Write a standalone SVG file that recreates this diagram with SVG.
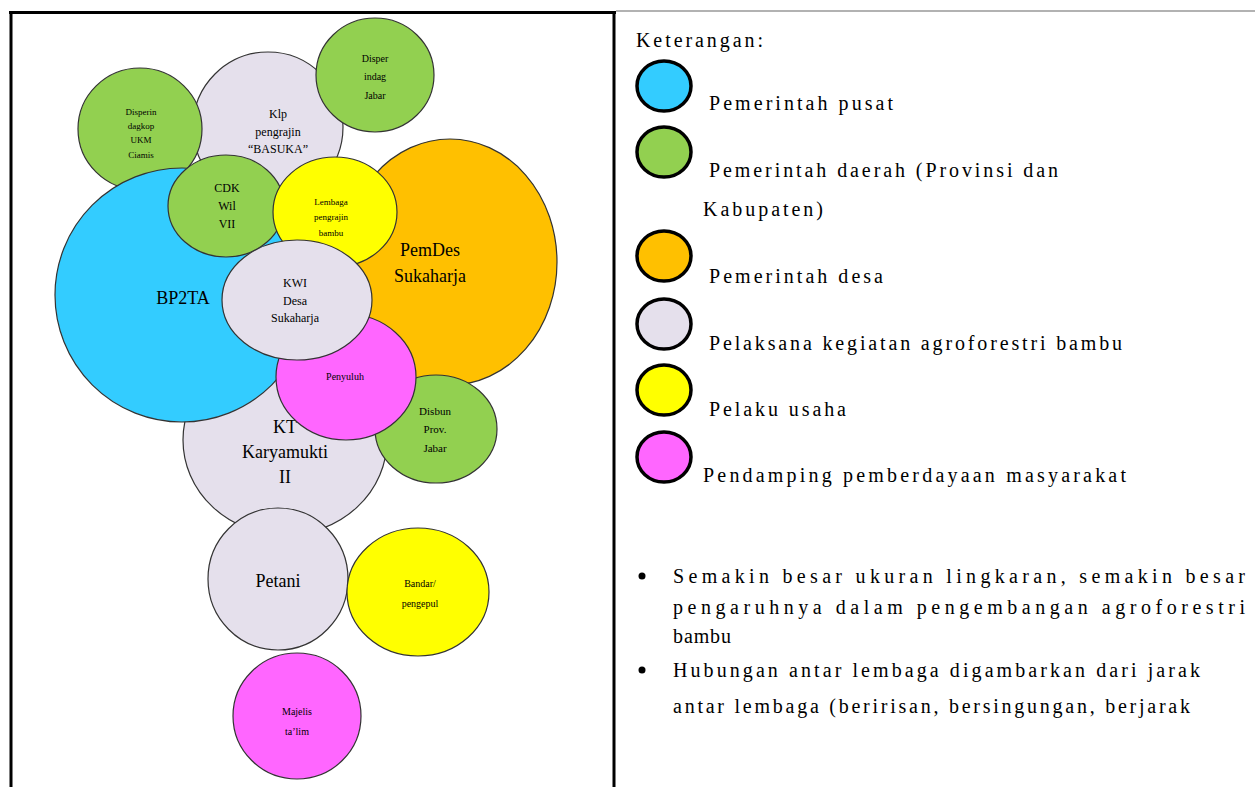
<svg xmlns="http://www.w3.org/2000/svg" width="1255" height="787" viewBox="0 0 1255 787" font-family="'Liberation Serif', 'DejaVu Serif', serif">
<style>
.n{stroke:#333;stroke-width:1.2}
.b{fill:#33CCFF}.g{fill:#92D050}.o{fill:#FFC000}.l{fill:#E5E0EC}.y{fill:#FFFF00}.m{fill:#FF66FF}
.lg{stroke:#000;stroke-width:3.5}
text{font-family:'Liberation Serif','DejaVu Serif',serif;fill:#000}
.c{text-anchor:middle}
.t17{font-size:18px}.t12{font-size:12px}.t11{font-size:11px}.t10{font-size:10px}.t9{font-size:9px}
.leg{font-size:20px}
</style>
<rect width="1255" height="787" fill="#fff"/>
<g id="frame">
<line x1="616" y1="11" x2="1255" y2="11" stroke="#999" stroke-width="1.5"/>
<line x1="9" y1="12.5" x2="616" y2="12.5" stroke="#000" stroke-width="3"/>
<line x1="11" y1="11" x2="11" y2="787" stroke="#000" stroke-width="3"/>
<line x1="614" y1="11" x2="614" y2="787" stroke="#000" stroke-width="3"/>
</g>
<g id="connectors"></g>
<g id="kt"><ellipse class="n l" cx="285" cy="440" rx="102" ry="95"/>
<text class="c t17" x="285" y="433">KT</text><text class="c t17" x="285" y="458">Karyamukti</text><text class="c t17" x="285" y="483">II</text></g>
<g id="pemdes"><ellipse class="n o" cx="450" cy="262" rx="107" ry="123"/>
<text class="c t17" x="430" y="256">PemDes</text><text class="c t17" x="430" y="282">Sukaharja</text></g>
<g id="disbun"><ellipse class="n g" cx="436" cy="429" rx="61" ry="54"/>
<text class="c t11" x="435" y="415">Disbun</text><text class="c t11" x="435" y="433">Prov.</text><text class="c t11" x="435" y="452">Jabar</text></g>
<g id="klp"><ellipse class="n l" cx="268" cy="127" rx="75" ry="75"/>
<text class="c t12" x="278" y="118">Klp</text><text class="c t12" x="278" y="136">pengrajin</text><text class="c t12" x="278" y="153">“BASUKA”</text></g>
<g id="diskop"><ellipse class="n g" cx="140" cy="129" rx="62" ry="61"/>
<text class="c t9" x="141" y="115">Disperin</text><text class="c t9" x="141" y="129">dagkop</text><text class="c t9" x="141" y="143">UKM</text><text class="c t9" x="141" y="158">Ciamis</text></g>
<g id="disperindag"><ellipse class="n g" cx="375" cy="75" rx="59" ry="57"/>
<text class="c t10" x="375" y="62">Disper</text><text class="c t10" x="375" y="80">indag</text><text class="c t10" x="375" y="99">Jabar</text></g>
<g id="bp2ta"><ellipse class="n b" cx="182" cy="295" rx="127" ry="127"/>
<text class="c t17" x="183" y="304">BP2TA</text></g>
<g id="cdk"><ellipse class="n g" cx="226" cy="206" rx="58" ry="51"/>
<text class="c t12" x="227" y="192">CDK</text><text class="c t12" x="227" y="210">Wil</text><text class="c t12" x="227" y="228">VII</text></g>
<g id="lembaga"><ellipse class="n y" cx="335" cy="212" rx="62" ry="55"/>
<text class="c t9" x="331" y="205">Lembaga</text><text class="c t9" x="331" y="220">pengrajin</text><text class="c t9" x="331" y="236">bambu</text></g>
<g id="penyuluh"><ellipse class="n m" cx="346" cy="377" rx="70" ry="63"/>
<text class="c t10" x="345" y="380">Penyuluh</text></g>
<g id="kwi"><ellipse class="n l" cx="297" cy="300" rx="75" ry="60"/>
<text class="c t12" x="295" y="287">KWI</text><text class="c t12" x="295" y="305">Desa</text><text class="c t12" x="295" y="322">Sukaharja</text></g>
<g id="petani"><ellipse class="n l" cx="278" cy="579" rx="70" ry="71"/>
<text class="c t17" x="278" y="587">Petani</text></g>
<g id="bandar"><ellipse class="n y" cx="418" cy="592" rx="71" ry="64"/>
<text class="c t10" x="420" y="587">Bandar/</text><text class="c t10" x="420" y="607">pengepul</text></g>
<g id="majelis"><ellipse class="n m" cx="297" cy="716" rx="64" ry="63"/>
<text class="c t10" x="297" y="715">Majelis</text><text class="c t10" x="297" y="735">ta’lim</text></g>
<g id="legend">
<text class="leg" x="636" y="47" textLength="127" lengthAdjust="spacing">Keterangan:</text>
<ellipse class="lg b" cx="664" cy="86" rx="27" ry="25"/>
<text class="leg" x="709" y="110" textLength="184" lengthAdjust="spacing">Pemerintah pusat</text>
<ellipse class="lg g" cx="664" cy="152" rx="27" ry="25"/>
<text class="leg" x="709" y="177" textLength="349" lengthAdjust="spacing">Pemerintah daerah (Provinsi dan</text>
<text class="leg" x="703" y="216" textLength="120" lengthAdjust="spacing">Kabupaten)</text>
<ellipse class="lg o" cx="664" cy="256" rx="27" ry="25"/>
<text class="leg" x="709" y="283" textLength="174" lengthAdjust="spacing">Pemerintah desa</text>
<ellipse class="lg l" cx="664" cy="324" rx="27" ry="25"/>
<text class="leg" x="709" y="350" textLength="413" lengthAdjust="spacing">Pelaksana kegiatan agroforestri bambu</text>
<ellipse class="lg y" cx="664" cy="390" rx="27" ry="25"/>
<text class="leg" x="709" y="416" textLength="137" lengthAdjust="spacing">Pelaku usaha</text>
<ellipse class="lg m" cx="664" cy="457" rx="27" ry="25"/>
<text class="leg" x="703" y="482" textLength="423" lengthAdjust="spacing">Pendamping pemberdayaan masyarakat</text>
</g>
<g id="notes">
<circle cx="642" cy="576" r="3.5" fill="#000"/>
<text class="leg" x="673" y="583" textLength="572" lengthAdjust="spacing">Semakin besar ukuran lingkaran, semakin besar</text>
<text class="leg" x="673" y="614" textLength="572" lengthAdjust="spacing">pengaruhnya dalam pengembangan agroforestri</text>
<text class="leg" x="673" y="643" textLength="58" lengthAdjust="spacing">bambu</text>
<circle cx="642" cy="670" r="3.5" fill="#000"/>
<text class="leg" x="673" y="677" textLength="527" lengthAdjust="spacing">Hubungan antar lembaga digambarkan dari  jarak</text>
<text class="leg" x="673" y="713" textLength="517" lengthAdjust="spacing">antar lembaga (beririsan, bersingungan, berjarak</text>
</g>
</svg>
